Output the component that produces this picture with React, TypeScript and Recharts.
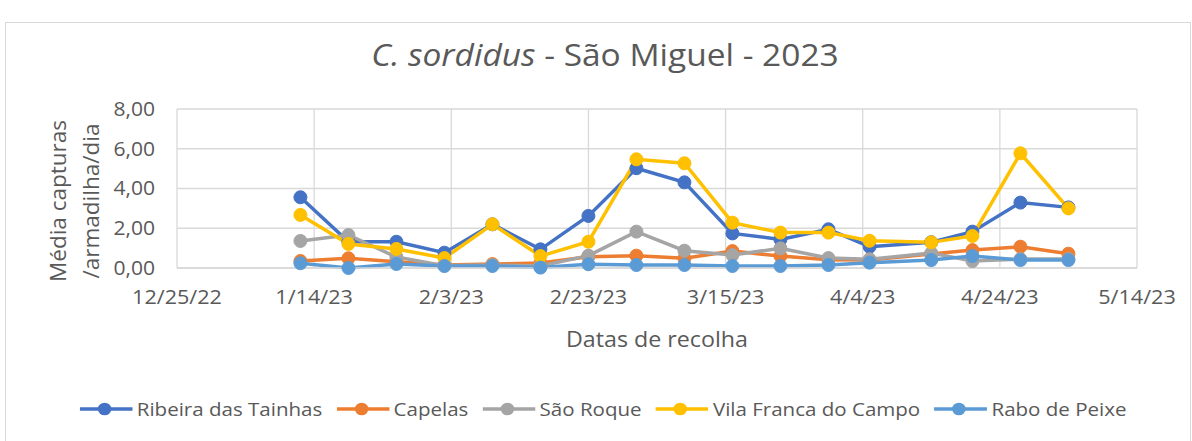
import React from "react";
import { LineChart, Line, XAxis, YAxis, CartesianGrid } from "recharts";

// collection dates
const dates = [
  "2023-01-12", "2023-01-19", "2023-01-26", "2023-02-02", "2023-02-09",
  "2023-02-16", "2023-02-23", "2023-03-02", "2023-03-09", "2023-03-16",
  "2023-03-23", "2023-03-30", "2023-04-05", "2023-04-14", "2023-04-20",
  "2023-04-27", "2023-05-04",
];

const ribeiraDasTainhas = [3.56, 1.32, 1.32, 0.77, 2.2, 0.94, 2.62, 5.02, 4.31, 1.74, 1.44, 1.95, 1.07, 1.3, 1.83, 3.29, 3.05];
const capelas = [0.35, 0.49, 0.32, 0.15, 0.2, 0.25, 0.57, 0.62, 0.49, 0.85, 0.6, 0.42, 0.4, 0.7, 0.9, 1.07, 0.72];
const saoRoque = [1.36, 1.66, 0.55, 0.12, 0.15, 0.1, 0.62, 1.83, 0.87, 0.65, 0.99, 0.5, 0.44, 0.75, 0.35, 0.45, 0.45];
const vilaFranca = [2.67, 1.21, 0.96, 0.5, 2.2, 0.6, 1.32, 5.47, 5.27, 2.28, 1.78, 1.78, 1.37, 1.29, 1.61, 5.77, 3.0];
const raboDePeixe = [0.24, 0.0, 0.2, 0.1, 0.1, 0.02, 0.19, 0.15, 0.15, 0.1, 0.1, 0.15, 0.27, 0.4, 0.6, 0.4, 0.4];

const xTickDates = ["2022-12-25", "2023-01-14", "2023-02-03", "2023-02-23", "2023-03-15", "2023-04-04", "2023-04-24", "2023-05-14"];
const yTicks = [0, 2, 4, 6, 8];

const series = [
  { key: "ribeira", name: "Ribeira das Tainhas", values: ribeiraDasTainhas, color: "#4472C4" },
  { key: "capelas", name: "Capelas", values: capelas, color: "#ED7D31" },
  { key: "saoRoque", name: "São Roque", values: saoRoque, color: "#A5A5A5" },
  { key: "vila", name: "Vila Franca do Campo", values: vilaFranca, color: "#FFC000" },
  { key: "rabo", name: "Rabo de Peixe", values: raboDePeixe, color: "#5B9BD5" },
];

const toMs = (s: string) => {
  const [y, m, d] = s.split("-").map(Number);
  return Date.UTC(y, m - 1, d);
};

const data = dates.map((d, i) => {
  const row: Record<string, number> = { t: toMs(d) };
  series.forEach((s) => (row[s.key] = s.values[i]));
  return row;
});

const xTicks = xTickDates.map(toMs);

const fmtDate = (ms: number) => {
  const d = new Date(ms);
  return `${d.getUTCMonth() + 1}/${d.getUTCDate()}/${String(d.getUTCFullYear()).slice(2)}`;
};
const fmtNum = (v: number) => v.toFixed(2).replace(".", ",");

const FONT = "'Open Sans', sans-serif";
const TEXT = "#595959";
const SX = 1.08; // text in the original is a little wider

// tick text, stretched horizontally around its anchor
function WideTick(props: any) {
  const { x, y, payload, textAnchor, formatter, dy } = props;
  return (
    <text
      x={x}
      y={y}
      dy={dy}
      textAnchor={textAnchor}
      fill={TEXT}
      fontSize={props.fs}
      fontFamily={FONT}
      transform={`translate(${x},0) scale(${SX},1) translate(${-x},0)`}
    >
      {formatter(payload.value)}
    </text>
  );
}

export default function App() {
  return (
    <div
      style={{
        position: "absolute",
        left: 0,
        top: 0,
        width: 1192,
        height: 441,
        overflow: "hidden",
        background: "#fff",
        fontFamily: FONT,
        color: TEXT,
      }}
    >
      <div
        style={{
          position: "absolute",
          left: 5,
          top: 22,
          width: 1184,
          height: 440,
          border: "1px solid #d9d9d9",
        }}
      />
      <div
        style={{
          position: "absolute",
          left: 0,
          width: 1210,
          top: 34,
          textAlign: "center",
          fontSize: 31,
          lineHeight: "40px",
          transform: `scaleX(${SX})`,
        }}
      >
        <i>C. sordidus</i> - São Miguel - 2023
      </div>
      <div style={{ position: "absolute", left: 74, top: 201, width: 0, height: 0 }}>
        <div
          style={{
            position: "absolute",
            left: -120,
            top: -33,
            width: 240,
            textAlign: "center",
            fontSize: 22.5,
            lineHeight: "33px",
            transform: "rotate(-90deg)",
          }}
        >
          Média capturas
          <br />
          /armadilha/dia
        </div>
      </div>
      <div
        style={{
          position: "absolute",
          left: 177,
          width: 960,
          top: 324,
          textAlign: "center",
          fontSize: 21.5,
          lineHeight: "30px",
          transform: `scaleX(${SX})`,
        }}
      >
        Datas de recolha
      </div>

      <div style={{ position: "absolute", left: 0, top: 0 }}>
        <LineChart
          width={1192}
          height={441}
          data={data}
          margin={{ top: 109, right: 55, bottom: 133, left: 0 }}
        >
          <CartesianGrid stroke="#d9d9d9" strokeWidth={1.3} verticalValues={xTicks} />
          <XAxis
            dataKey="t"
            type="number"
            domain={[xTicks[0], xTicks[xTicks.length - 1]]}
            ticks={xTicks}
            height={40}
            axisLine={{ stroke: "#d9d9d9", strokeWidth: 1.3 }}
            tickLine={false}
            tickSize={0}
            tickMargin={22}
            tick={<WideTick formatter={fmtDate} fs={20} dy="0.71em" />}
            interval={0}
          />
          <YAxis
            domain={[0, 8]}
            ticks={yTicks}
            width={177}
            axisLine={false}
            tickLine={false}
            tickSize={0}
            tickMargin={22}
            tick={<WideTick formatter={fmtNum} fs={19.5} dy="0.355em" />}
            interval={0}
          />
          {series.map((s) => (
            <Line
              key={s.key}
              dataKey={s.key}
              name={s.name}
              stroke={s.color}
              strokeWidth={3.5}
              dot={{ r: 6.5, fill: s.color, stroke: s.color, strokeWidth: 1 }}
              activeDot={false}
              isAnimationActive={false}
            />
          ))}
        </LineChart>
      </div>

      <div
        style={{
          position: "absolute",
          left: 0,
          width: 1192,
          top: 396,
          display: "flex",
          justifyContent: "center",
          paddingLeft: 26,
          boxSizing: "border-box",
          fontSize: 19,
          lineHeight: "26px",
          transform: `scaleX(${SX})`,
        }}
      >
        {series.map((s) => (
          <div key={s.key} style={{ display: "flex", alignItems: "center", marginRight: 13 }}>
            <svg width={49} height={20} style={{ marginRight: 4 }}>
              <line x1={0} y1={10} x2={49} y2={10} stroke={s.color} strokeWidth={3.5} />
              <circle cx={23} cy={10} r={6.3} fill={s.color} />
            </svg>
            <span>{s.name}</span>
          </div>
        ))}
      </div>
    </div>
  );
}
